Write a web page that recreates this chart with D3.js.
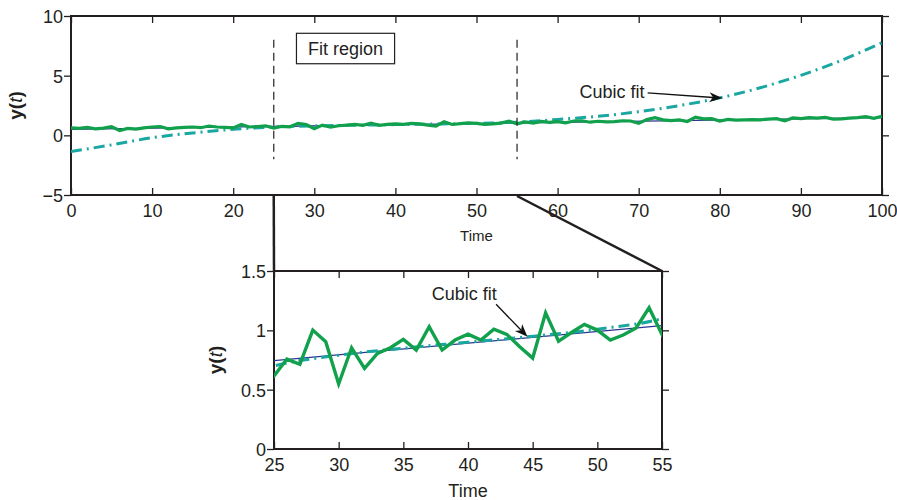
<!DOCTYPE html>
<html><head><meta charset="utf-8">
<script src="https://cdn.jsdelivr.net/npm/d3@7"></script>
<style>
body{margin:0;background:#fff;}
svg text{font-family:"Liberation Sans",Arial,Helvetica,sans-serif;fill:#231f20;}
</style></head>
<body><svg id="c" width="897" height="500"></svg>
<script>
// ---- data ----
const timeSteps = d3.range(0, 101);
const measured = [
 0.62,0.58,0.66,0.55,0.60,0.72,0.40,0.58,0.52,0.63,
 0.70,0.74,0.55,0.62,0.66,0.70,0.64,0.78,0.70,0.66,
 0.62,0.92,0.70,0.74,0.80,
 0.615,0.758,0.714,1.002,0.904,0.548,0.853,0.680,0.806,0.853,
 0.924,0.834,1.03,0.834,0.918,0.968,0.918,1.01,0.966,0.862,
 0.766,1.147,0.909,0.982,1.05,1.002,0.918,0.96,1.02,1.19,0.966,
 1.12,1.02,1.16,1.08,1.14,1.05,1.20,1.22,1.10,1.18,
 1.12,1.15,1.22,1.20,1.00,1.32,1.48,1.30,1.24,1.30,
 1.16,1.52,1.38,1.40,1.20,1.33,1.28,1.30,1.32,1.30,
 1.36,1.40,1.22,1.46,1.40,1.48,1.44,1.50,1.36,1.38,
 1.44,1.48,1.56,1.42,1.60];
const linearT = [0, 100];
const linearY = [0.50, 1.48];
const cubicT = [0,5,10,15,20,25,30,35,40,45,50,55,60,65,70,75,80,85,90,95,100];
const cubicY = [-1.36,-0.80,-0.20,0.20,0.50,0.70,0.79,0.85,0.90,0.95,1.01,1.10,1.33,1.60,1.98,2.49,3.14,3.99,5.03,6.28,7.76];
const topXTicks = [0,10,20,30,40,50,60,70,80,90,100];
const topYTicks = [-5,0,5,10];
const inXTicks = [25,30,35,40,45,50,55];
const inYTicks = [0,0.5,1,1.5];
const fitRegion = [25, 55];

const GREEN = "#11a04b", TEAL = "#1aa7a1", NAVY = "#2d3592", INK = "#231f20";
const FS = 18;
const svg = d3.select("#c");

function panel(opt){
  const {x0,x1,y0,y1,xd,yd,xt,yt,xFmt,yFmt,timeSize,timeY,ylabX} = opt;
  const x = d3.scaleLinear().domain(xd).range([x0,x1]);
  const y = d3.scaleLinear().domain(yd).range([y1,y0]);
  const g = svg.append("g");
  const clipId = "clip"+Math.round(x0);
  svg.append("clipPath").attr("id",clipId).append("rect")
    .attr("x",x0).attr("y",y0).attr("width",x1-x0).attr("height",y1-y0);
  const tl = 7;
  const ax = [
    [d3.axisBottom(x).tickValues(xt).tickSize(tl).tickFormat(xFmt), `translate(0,${y1})`],
    [d3.axisTop(x).tickValues(xt).tickSize(tl).tickFormat(""), `translate(0,${y0})`],
    [d3.axisLeft(y).tickValues(yt).tickSize(tl).tickFormat(yFmt), `translate(${x0},0)`],
    [d3.axisRight(y).tickValues(yt).tickSize(tl).tickFormat(""), `translate(${x1},0)`]
  ];
  ax.forEach(([a,tr],i)=>{
    const ag = g.append("g").attr("transform",tr).call(a);
    ag.select(".domain").remove();
    ag.selectAll(".tick line").attr("stroke",INK).attr("stroke-width",1.3)
      .attr(i<2?"y2":"x2", (i===0||i===2)? -tl : tl);
    ag.selectAll("text").attr("font-size",FS).attr("fill",INK);
    if(i===0) ag.selectAll("text").attr("y",9).attr("dy","0.71em");
    if(i===2) ag.selectAll("text").attr("x",-8).attr("dy","0.36em");
  });
  g.append("rect").attr("x",x0).attr("y",y0).attr("width",x1-x0).attr("height",y1-y0)
    .attr("fill","none").attr("stroke",INK).attr("stroke-width",2);
  g.append("text").attr("x",(x0+x1)/2).attr("y",timeY).attr("text-anchor","middle")
    .attr("font-size",timeSize).text("Time");
  const yl = g.append("text").attr("transform",`translate(${ylabX},${(y0+y1)/2}) rotate(-90)`)
    .attr("text-anchor","middle").attr("font-size",19).attr("font-weight","bold");
  yl.append("tspan").text("y(");
  yl.append("tspan").attr("font-style","italic").attr("font-weight","normal").text("t");
  yl.append("tspan").text(")");
  const plot = svg.append("g").attr("clip-path",`url(#${clipId})`);
  return {x,y,g,plot};
}

const T = panel({x0:71,x1:882,y0:16,y1:195,xd:[0,100],yd:[-5,10],xt:topXTicks,yt:topYTicks,
  xFmt:d3.format("d"), yFmt:d=> d<0 ? "\u2212"+Math.abs(d) : d, timeSize:15, timeY:241, ylabX:22});
const I = panel({x0:274,x1:662,y0:271,y1:449,xd:[25,55],yd:[0,1.5],xt:inXTicks,yt:inYTicks,
  xFmt:d3.format("d"), yFmt:d=>d, timeSize:18, timeY:497, ylabX:222});

function drawSeries(P, lw){
  const lin = d3.line().x((d,i)=>P.x(linearT[i])).y(d=>P.y(d));
  P.plot.append("path").attr("d",lin(linearY)).attr("fill","none")
    .attr("stroke",NAVY).attr("stroke-width",1.3);
  const cub = d3.line().curve(d3.curveCatmullRom).x((d,i)=>P.x(cubicT[i])).y(d=>P.y(d));
  P.plot.append("path").attr("d",cub(cubicY)).attr("fill","none")
    .attr("stroke",TEAL).attr("stroke-width",lw.cubic).attr("stroke-dasharray","11,5,2,5");
  const dat = d3.line().x((d,i)=>P.x(timeSteps[i])).y(d=>P.y(d));
  P.plot.append("path").attr("d",dat(measured)).attr("fill","none")
    .attr("stroke",GREEN).attr("stroke-width",lw.data).attr("stroke-linejoin","miter");
}
drawSeries(T,{cubic:3,data:3.2});
drawSeries(I,{cubic:3,data:3.4});

fitRegion.forEach(t=>{
  svg.append("line").attr("x1",T.x(t)).attr("x2",T.x(t)).attr("y1",T.y(8)).attr("y2",T.y(-2))
    .attr("stroke","#333").attr("stroke-width",1.3).attr("stroke-dasharray","8,5");
});
const fr = svg.append("g");
fr.append("rect").attr("x",T.x(27.8)).attr("y",T.y(8.55)).attr("width",T.x(39.9)-T.x(27.8))
  .attr("height",T.y(6.0)-T.y(8.55)).attr("fill","#fff").attr("stroke",INK).attr("stroke-width",1.2);
fr.append("text").attr("x",(T.x(27.8)+T.x(39.9))/2).attr("y",55)
  .attr("text-anchor","middle").attr("font-size",FS).text("Fit region");

fitRegion.forEach(t=>{
  svg.append("line").attr("x1",T.x(t)).attr("y1",T.y(-5)+1).attr("x2",I.x(t)).attr("y2",I.y(1.5))
    .attr("stroke",INK).attr("stroke-width",2.5);
});

function arrow(x1,y1,x2,y2){
  const g = svg.append("g");
  const a = Math.atan2(y2-y1,x2-x1), L=13, W=5;
  const bx = x2-L*Math.cos(a), by = y2-L*Math.sin(a);
  const nx = -Math.sin(a), ny = Math.cos(a);
  const mx = x2-0.7*L*Math.cos(a), my = y2-0.7*L*Math.sin(a);
  g.append("line").attr("x1",x1).attr("y1",y1).attr("x2",mx).attr("y2",my)
    .attr("stroke","#111").attr("stroke-width",1.3);
  g.append("path").attr("d",`M${x2},${y2}L${bx+W*nx},${by+W*ny}L${mx},${my}L${bx-W*nx},${by-W*ny}Z`)
    .attr("fill","#111");
}
svg.append("text").attr("x",T.x(71.1)-3).attr("y",T.y(3.55)+5).attr("text-anchor","end")
  .attr("font-size",FS).text("Cubic fit");
arrow(T.x(71.1),T.y(3.55),T.x(80.3),T.y(3.12));
svg.append("text").attr("x",I.x(37.2)).attr("y",I.y(1.254)).attr("font-size",FS).text("Cubic fit");
arrow(I.x(42.17),I.y(1.22),I.x(44.6),I.y(0.945));
</script></body></html>
